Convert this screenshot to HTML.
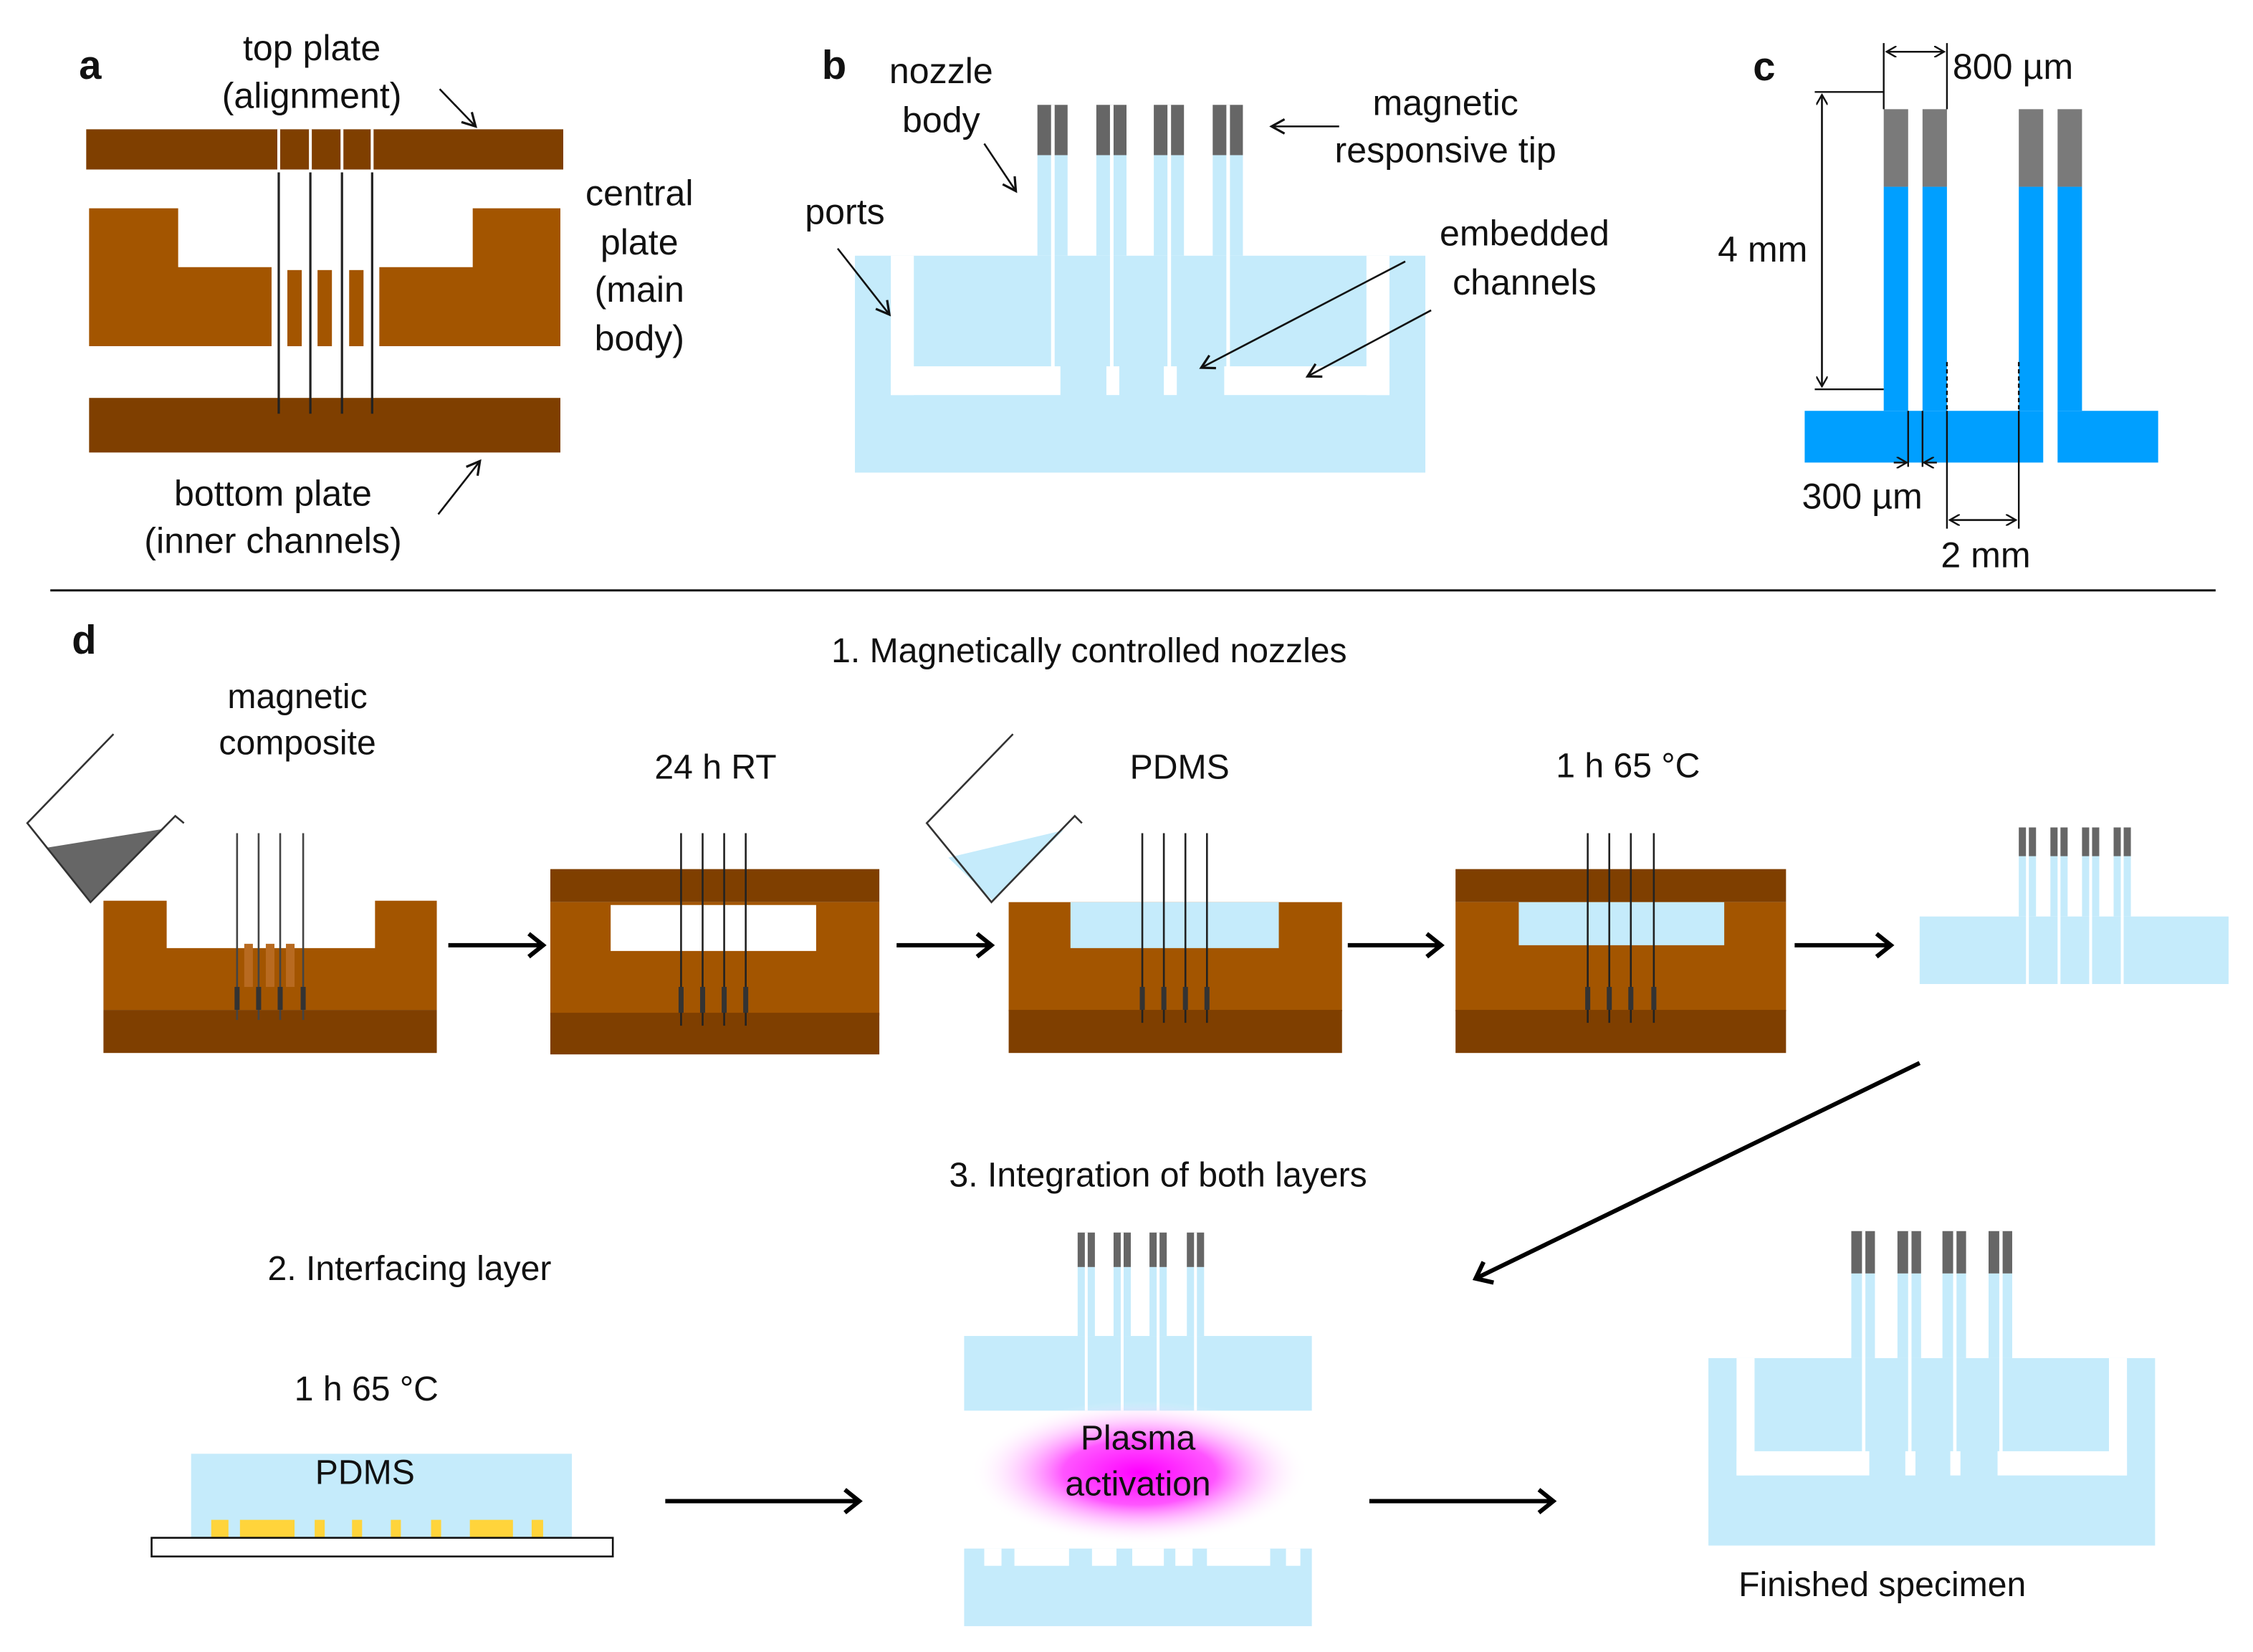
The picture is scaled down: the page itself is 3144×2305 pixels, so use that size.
<!DOCTYPE html>
<html><head><meta charset="utf-8"><style>
html,body{margin:0;padding:0;background:#fff;}
svg{display:block;}
text{font-family:"Liberation Sans",Arial,sans-serif;fill:#111;}
</style></head><body>
<svg width="3144" height="2305" viewBox="0 0 1568 1150" preserveAspectRatio="none" xmlns="http://www.w3.org/2000/svg">
<defs>
<marker id="ah" markerWidth="12" markerHeight="12" refX="10" refY="6" orient="auto" markerUnits="userSpaceOnUse">
<path d="M1,1 L10,6 L1,11" fill="none" stroke="#111" stroke-width="1.6"/></marker>
<marker id="ahb" markerWidth="16" markerHeight="20" refX="13" refY="10" orient="auto" markerUnits="userSpaceOnUse">
<path d="M3,2 L13,10 L3,18" fill="none" stroke="#000" stroke-width="3"/></marker>
<marker id="sm" markerWidth="8" markerHeight="8" refX="7" refY="4" orient="auto" markerUnits="userSpaceOnUse">
<path d="M0,0 L7,4 L0,8" fill="none" stroke="#111" stroke-width="1.2"/></marker>
<radialGradient id="pl" cx="0.5" cy="0.5" r="0.5">
<stop offset="0" stop-color="#ff00ff"/><stop offset="0.45" stop-color="#ff55ff"/><stop offset="1" stop-color="#ffffff" stop-opacity="0"/></radialGradient>
</defs>

<!-- ===== Panel a ===== -->
<text x="55" y="55" font-size="28" font-weight="bold">a</text>
<text x="217" y="42" font-size="25" text-anchor="middle">top plate</text>
<text x="217" y="75" font-size="25" text-anchor="middle">(alignment)</text>
<rect x="60" y="90" width="332" height="28" fill="#7f3f00"/>
<g stroke="#fff" stroke-width="2"><line x1="194" y1="90" x2="194" y2="118"/><line x1="216" y1="90" x2="216" y2="118"/><line x1="238" y1="90" x2="238" y2="118"/><line x1="259" y1="90" x2="259" y2="118"/></g>
<line x1="306" y1="62" x2="331" y2="88" stroke="#111" stroke-width="1.3" marker-end="url(#ah)"/>
<path d="M62,145 H124 V186 H189 V241 H62 Z" fill="#a35500"/>
<path d="M390,145 H329 V186 H264 V241 H390 Z" fill="#a35500"/>
<rect x="200" y="188" width="10" height="53" fill="#a35500"/>
<rect x="221" y="188" width="10" height="53" fill="#a35500"/>
<rect x="243" y="188" width="10" height="53" fill="#a35500"/>
<rect x="62" y="277" width="328" height="38" fill="#7f3f00"/>
<g stroke="#222" stroke-width="1.6"><line x1="194" y1="120" x2="194" y2="288"/><line x1="216" y1="120" x2="216" y2="288"/><line x1="238" y1="120" x2="238" y2="288"/><line x1="259" y1="120" x2="259" y2="288"/></g>
<text x="445" y="143" font-size="25" text-anchor="middle">central</text>
<text x="445" y="177" font-size="25" text-anchor="middle">plate</text>
<text x="445" y="210" font-size="25" text-anchor="middle">(main</text>
<text x="445" y="244" font-size="25" text-anchor="middle">body)</text>
<text x="190" y="352" font-size="25" text-anchor="middle">bottom plate</text>
<text x="190" y="385" font-size="25" text-anchor="middle">(inner  channels)</text>
<line x1="305" y1="358" x2="334" y2="321" stroke="#111" stroke-width="1.3" marker-end="url(#ah)"/>

<!-- ===== Panel b ===== -->
<g id="pb">
<rect x="595" y="178" width="397" height="151" fill="#c5ebfb"/>
<g fill="#c5ebfb"><rect x="722" y="108" width="21" height="70"/><rect x="763" y="108" width="21" height="70"/><rect x="803" y="108" width="21" height="70"/><rect x="844" y="108" width="21" height="70"/></g>
<g fill="#666"><rect x="722" y="73" width="21" height="35"/><rect x="763" y="73" width="21" height="35"/><rect x="803" y="73" width="21" height="35"/><rect x="844" y="73" width="21" height="35"/></g>
<g fill="#fff">
<rect x="620" y="178" width="16" height="97"/><rect x="951" y="178" width="16" height="97"/>
<rect x="620" y="255" width="118" height="20"/><rect x="852" y="255" width="115" height="20"/>
<rect x="770" y="255" width="9" height="20"/><rect x="810" y="255" width="9" height="20"/>
<rect x="731.5" y="73" width="2.5" height="185"/><rect x="772.5" y="73" width="2.5" height="185"/><rect x="812.5" y="73" width="2.5" height="185"/><rect x="853.5" y="73" width="2.5" height="185"/>
</g>
</g>
<text x="572" y="55" font-size="28" font-weight="bold">b</text>
<text x="655" y="58" font-size="25" text-anchor="middle">nozzle</text>
<text x="655" y="92" font-size="25" text-anchor="middle">body</text>
<line x1="685" y1="100" x2="707" y2="133" stroke="#111" stroke-width="1.3" marker-end="url(#ah)"/>
<text x="588" y="156" font-size="25" text-anchor="middle">ports</text>
<line x1="583" y1="173" x2="619" y2="219" stroke="#111" stroke-width="1.3" marker-end="url(#ah)"/>
<text x="1006" y="80" font-size="25" text-anchor="middle">magnetic</text>
<text x="1006" y="113" font-size="25" text-anchor="middle">responsive tip</text>
<line x1="932" y1="88" x2="885" y2="88" stroke="#111" stroke-width="1.3" marker-end="url(#ah)"/>
<text x="1061" y="171" font-size="25" text-anchor="middle">embedded</text>
<text x="1061" y="205" font-size="25" text-anchor="middle">channels</text>
<line x1="978" y1="182" x2="836" y2="256" stroke="#111" stroke-width="1.3" marker-end="url(#ah)"/>
<line x1="996" y1="216" x2="910" y2="262" stroke="#111" stroke-width="1.3" marker-end="url(#ah)"/>

<!-- ===== Panel c ===== -->
<text x="1220" y="56" font-size="28" font-weight="bold">c</text>
<g fill="#009fff">
<rect x="1256" y="286" width="166" height="36"/><rect x="1432" y="286" width="70" height="36"/>
<rect x="1311" y="130" width="17" height="156"/><rect x="1338" y="130" width="17" height="156"/>
<rect x="1405" y="130" width="17" height="156"/><rect x="1432" y="130" width="17" height="156"/>
</g>
<g fill="#7a7a7a"><rect x="1311" y="76" width="17" height="54"/><rect x="1338" y="76" width="17" height="54"/><rect x="1405" y="76" width="17" height="54"/><rect x="1432" y="76" width="17" height="54"/></g>
<g stroke="#111" stroke-width="1.2" fill="none">
<line x1="1311" y1="30" x2="1311" y2="76"/><line x1="1355" y1="30" x2="1355" y2="76"/>
<line x1="1313" y1="36" x2="1353" y2="36" marker-end="url(#sm)"/><line x1="1353" y1="36" x2="1313" y2="36" marker-end="url(#sm)"/>
<line x1="1263" y1="64" x2="1311" y2="64"/><line x1="1263" y1="271" x2="1311" y2="271"/>
<line x1="1268" y1="66" x2="1268" y2="269" marker-end="url(#sm)"/><line x1="1268" y1="269" x2="1268" y2="66" marker-end="url(#sm)"/>
<line x1="1328" y1="286" x2="1328" y2="325"/><line x1="1338" y1="286" x2="1338" y2="325"/>
<line x1="1318" y1="322" x2="1327" y2="322" marker-end="url(#sm)"/><line x1="1348" y1="322" x2="1339" y2="322" marker-end="url(#sm)"/>
<line x1="1355" y1="252" x2="1355" y2="286" stroke-dasharray="3,2"/><line x1="1405" y1="252" x2="1405" y2="286" stroke-dasharray="3,2"/>
<line x1="1355" y1="286" x2="1355" y2="368"/><line x1="1405" y1="286" x2="1405" y2="368"/>
<line x1="1357" y1="362" x2="1403" y2="362" marker-end="url(#sm)"/><line x1="1403" y1="362" x2="1357" y2="362" marker-end="url(#sm)"/>
</g>
<text x="1359" y="55" font-size="25">800 µm</text>
<text x="1258" y="182" font-size="25" text-anchor="end">4 mm</text>
<text x="1296" y="354" font-size="25" text-anchor="middle">300 µm</text>
<text x="1382" y="395" font-size="25" text-anchor="middle">2 mm</text>

<line x1="35" y1="411" x2="1542" y2="411" stroke="#111" stroke-width="1.5"/>

<!-- ===== Panel d ===== -->
<text x="50" y="455" font-size="28" font-weight="bold">d</text>
<text x="758" y="461" font-size="24" text-anchor="middle">1. Magnetically  controlled nozzles</text>
<text x="207" y="493" font-size="24" text-anchor="middle">magnetic</text>
<text x="207" y="525" font-size="24" text-anchor="middle">composite</text>
<text x="498" y="542" font-size="24" text-anchor="middle">24 h RT</text>
<text x="821" y="542" font-size="24" text-anchor="middle">PDMS</text>
<text x="1133" y="541" font-size="24" text-anchor="middle">1 h 65 °C</text>

<polygon points="33,590 114,577 63,627" fill="#666"/>
<polyline points="79,511 19,573 63,628 122,568 128,573" fill="none" stroke="#333" stroke-width="1.3"/>
<path d="M72,627 H116 V660 H261 V627 H304 V703 H72 Z" fill="#a35500"/>
<rect x="72" y="703" width="232" height="30" fill="#7f3f00"/>
<g fill="#b86a20"><rect x="170" y="657" width="6" height="30"/><rect x="185" y="657" width="6" height="30"/><rect x="199" y="657" width="6" height="30"/></g>
<g stroke="#444" stroke-width="1.3"><line x1="165" y1="580" x2="165" y2="710"/><line x1="180" y1="580" x2="180" y2="710"/><line x1="195" y1="580" x2="195" y2="710"/><line x1="211" y1="580" x2="211" y2="710"/></g>
<g stroke="#333" stroke-width="3.5"><line x1="165" y1="687" x2="165" y2="703"/><line x1="180" y1="687" x2="180" y2="703"/><line x1="195" y1="687" x2="195" y2="703"/><line x1="211" y1="687" x2="211" y2="703"/></g>
<line x1="312" y1="658" x2="378" y2="658" stroke="#000" stroke-width="3" marker-end="url(#ahb)"/>

<rect x="383" y="605" width="229" height="23" fill="#7f3f00"/>
<rect x="383" y="628" width="229" height="79" fill="#a35500"/>
<rect x="425" y="630" width="143" height="32" fill="#fff"/>
<rect x="383" y="705" width="229" height="29" fill="#7f3f00"/>
<g stroke="#222" stroke-width="1.3"><line x1="474" y1="580" x2="474" y2="714"/><line x1="489" y1="580" x2="489" y2="714"/><line x1="504" y1="580" x2="504" y2="714"/><line x1="519" y1="580" x2="519" y2="714"/></g>
<g stroke="#333" stroke-width="3.5"><line x1="474" y1="687" x2="474" y2="705"/><line x1="489" y1="687" x2="489" y2="705"/><line x1="504" y1="687" x2="504" y2="705"/><line x1="519" y1="687" x2="519" y2="705"/></g>
<line x1="624" y1="658" x2="690" y2="658" stroke="#000" stroke-width="3" marker-end="url(#ahb)"/>

<polygon points="660,597 740,578 691,627" fill="#c5ebfb"/>
<polyline points="705,511 645,573 690,628 748,568 753,573" fill="none" stroke="#333" stroke-width="1.3"/>
<rect x="702" y="628" width="232" height="76" fill="#a35500"/>
<rect x="745" y="628" width="145" height="32" fill="#c5ebfb"/>
<rect x="702" y="703" width="232" height="30" fill="#7f3f00"/>
<g stroke="#222" stroke-width="1.3"><line x1="795" y1="580" x2="795" y2="712"/><line x1="810" y1="580" x2="810" y2="712"/><line x1="825" y1="580" x2="825" y2="712"/><line x1="840" y1="580" x2="840" y2="712"/></g>
<g stroke="#333" stroke-width="3.5"><line x1="795" y1="687" x2="795" y2="703"/><line x1="810" y1="687" x2="810" y2="703"/><line x1="825" y1="687" x2="825" y2="703"/><line x1="840" y1="687" x2="840" y2="703"/></g>
<line x1="938" y1="658" x2="1003" y2="658" stroke="#000" stroke-width="3" marker-end="url(#ahb)"/>

<rect x="1013" y="605" width="230" height="23" fill="#7f3f00"/>
<rect x="1013" y="628" width="230" height="76" fill="#a35500"/>
<rect x="1057" y="628" width="143" height="30" fill="#c5ebfb"/>
<rect x="1013" y="703" width="230" height="30" fill="#7f3f00"/>
<g stroke="#222" stroke-width="1.3"><line x1="1105" y1="580" x2="1105" y2="712"/><line x1="1120" y1="580" x2="1120" y2="712"/><line x1="1135" y1="580" x2="1135" y2="712"/><line x1="1151" y1="580" x2="1151" y2="712"/></g>
<g stroke="#333" stroke-width="3.5"><line x1="1105" y1="687" x2="1105" y2="703"/><line x1="1120" y1="687" x2="1120" y2="703"/><line x1="1135" y1="687" x2="1135" y2="703"/><line x1="1151" y1="687" x2="1151" y2="703"/></g>
<line x1="1249" y1="658" x2="1316" y2="658" stroke="#000" stroke-width="3" marker-end="url(#ahb)"/>

<rect x="1336" y="638" width="215" height="47" fill="#c5ebfb"/>
<g fill="#c5ebfb"><rect x="1405" y="596" width="12" height="42"/><rect x="1427" y="596" width="12" height="42"/><rect x="1449" y="596" width="12" height="42"/><rect x="1471" y="596" width="12" height="42"/></g>
<g fill="#666"><rect x="1405" y="576" width="12" height="20"/><rect x="1427" y="576" width="12" height="20"/><rect x="1449" y="576" width="12" height="20"/><rect x="1471" y="576" width="12" height="20"/></g>
<g fill="#fff"><rect x="1410" y="576" width="2" height="109"/><rect x="1432" y="576" width="2" height="109"/><rect x="1454" y="576" width="2" height="109"/><rect x="1476" y="576" width="2" height="109"/></g>

<line x1="1336" y1="740" x2="1027" y2="890" stroke="#000" stroke-width="3" marker-end="url(#ahb)"/>

<text x="806" y="826" font-size="24" text-anchor="middle">3. Integration  of both layers</text>
<text x="285" y="891" font-size="24" text-anchor="middle">2. Interfacing layer</text>
<text x="255" y="975" font-size="24" text-anchor="middle">1 h 65 °C</text>

<rect x="133" y="1012" width="265" height="58" fill="#c5ebfb"/>
<g fill="#ffd43b"><rect x="147" y="1058" width="12" height="12"/><rect x="167" y="1058" width="38" height="12"/><rect x="219" y="1058" width="7" height="12"/><rect x="245" y="1058" width="7" height="12"/><rect x="272" y="1058" width="7" height="12"/><rect x="300" y="1058" width="7" height="12"/><rect x="327" y="1058" width="30" height="12"/><rect x="370" y="1058" width="8" height="12"/></g>
<rect x="105.5" y="1070.5" width="321" height="13" fill="#fff" stroke="#111" stroke-width="1.3"/>
<text x="254" y="1033" font-size="24" text-anchor="middle">PDMS</text>
<line x1="463" y1="1045" x2="598" y2="1045" stroke="#000" stroke-width="3" marker-end="url(#ahb)"/>

<rect x="671" y="930" width="242" height="52" fill="#c5ebfb"/>
<g fill="#c5ebfb"><rect x="750" y="882" width="12" height="48"/><rect x="775" y="882" width="12" height="48"/><rect x="800" y="882" width="12" height="48"/><rect x="826" y="882" width="12" height="48"/></g>
<g fill="#666"><rect x="750" y="858" width="12" height="24"/><rect x="775" y="858" width="12" height="24"/><rect x="800" y="858" width="12" height="24"/><rect x="826" y="858" width="12" height="24"/></g>
<g fill="#fff"><rect x="755" y="858" width="2" height="124"/><rect x="780" y="858" width="2" height="124"/><rect x="805" y="858" width="2" height="124"/><rect x="831" y="858" width="2" height="124"/></g>
<ellipse cx="793" cy="1025" rx="118" ry="50" fill="url(#pl)"/>
<text x="792" y="1009" font-size="24" text-anchor="middle">Plasma</text>
<text x="792" y="1041" font-size="24" text-anchor="middle">activation</text>
<rect x="671" y="1078" width="242" height="54" fill="#c5ebfb"/>
<g fill="#fff"><rect x="685" y="1078" width="12" height="12"/><rect x="706" y="1078" width="38" height="12"/><rect x="760" y="1078" width="17" height="12"/><rect x="788" y="1078" width="22" height="12"/><rect x="818" y="1078" width="12" height="12"/><rect x="840" y="1078" width="44" height="12"/><rect x="895" y="1078" width="10" height="12"/></g>
<line x1="953" y1="1045" x2="1081" y2="1045" stroke="#000" stroke-width="3" marker-end="url(#ahb)"/>

<g transform="translate(1189,857) scale(0.783,0.842) translate(-595,-73)">
<rect x="595" y="178" width="397" height="155" fill="#c5ebfb"/>
<g fill="#c5ebfb"><rect x="722" y="108" width="21" height="70"/><rect x="763" y="108" width="21" height="70"/><rect x="803" y="108" width="21" height="70"/><rect x="844" y="108" width="21" height="70"/></g>
<g fill="#666"><rect x="722" y="73" width="21" height="35"/><rect x="763" y="73" width="21" height="35"/><rect x="803" y="73" width="21" height="35"/><rect x="844" y="73" width="21" height="35"/></g>
<g fill="#fff">
<rect x="620" y="178" width="16" height="97"/><rect x="951" y="178" width="16" height="97"/>
<rect x="620" y="255" width="118" height="20"/><rect x="852" y="255" width="115" height="20"/>
<rect x="770" y="255" width="9" height="20"/><rect x="810" y="255" width="9" height="20"/>
<rect x="731.5" y="73" width="3" height="185"/><rect x="772.5" y="73" width="3" height="185"/><rect x="812.5" y="73" width="3" height="185"/><rect x="853.5" y="73" width="3" height="185"/>
</g>
</g>
<text x="1310" y="1111" font-size="24" text-anchor="middle">Finished specimen</text>
</svg>
</body></html>
